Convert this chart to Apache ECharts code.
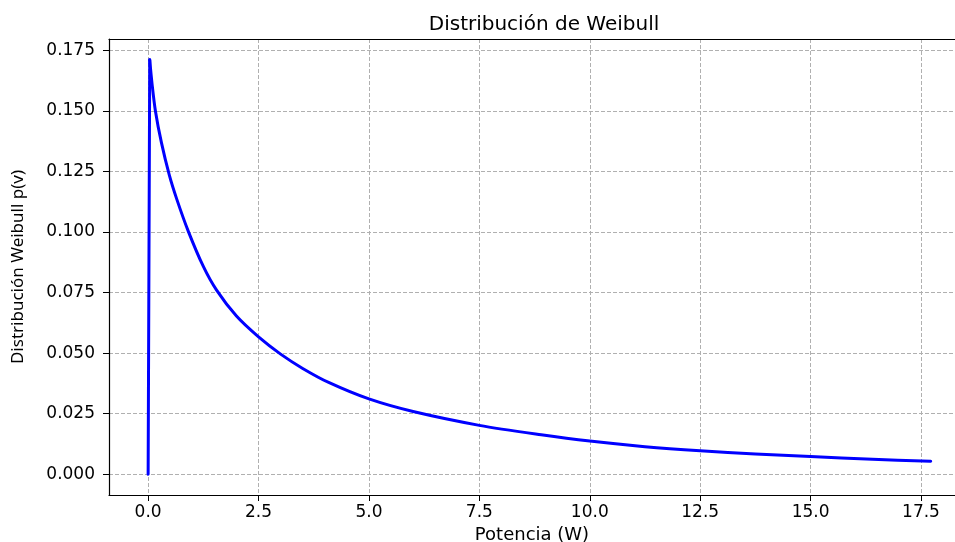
<!DOCTYPE html>
<html>
<head>
<meta charset="utf-8">
<script src="https://cdn.jsdelivr.net/npm/echarts@6/dist/echarts.min.js"></script>
<style>
  html, body { margin: 0; padding: 0; background: #fff; }
  #chart { width: 955px; height: 542px; }
</style>
</head>
<body>
<div id="chart"></div>
<script>
// valores
const potencia = [0, 0.036, 0.09, 0.165, 0.3, 0.48, 0.65, 0.91, 1.25, 1.55, 2.0, 2.5, 3.0, 3.5, 4.1, 5.0, 6.0, 7.5, 8.9, 10.0, 11.25, 12.5, 13.75, 15.0, 16.4, 17.72];
const weibull = [0, 0.1711, 0.161, 0.150, 0.137, 0.1235, 0.1135, 0.1003, 0.0858, 0.0760, 0.0653, 0.0567, 0.0496, 0.0437, 0.0378, 0.0311, 0.0259, 0.0202, 0.0163, 0.0137, 0.0114, 0.0097, 0.0084, 0.0073, 0.0062, 0.0054];
const xTicks = [0, 2.5, 5, 7.5, 10, 12.5, 15, 17.5];
const yTicks = [0, 0.025, 0.05, 0.075, 0.1, 0.125, 0.15, 0.175];

const font = 'DejaVu Sans';
const gridLine = { show: true, lineStyle: { color: '#b0b0b0', type: [4, 2], width: 1 } };
const puntos = potencia.map((p, i) => [p, weibull[i]]);
const azul = { color: '#0000ff', width: 3, cap: 'round', join: 'round' };

const chart = echarts.init(document.getElementById('chart'));
chart.setOption({
    animation: false,
    title: {
        text: 'Distribución de Weibull',
        left: 539,
        textAlign: 'center',
        top: 10,
        textStyle: { fontFamily: font, fontSize: 20, fontWeight: 'normal', color: '#000' }
    },
    grid: { left: 109, right: 0, top: 39, bottom: 47, containLabel: false, outerBoundsMode: 'none' },
    xAxis: [
        {
            type: 'value',
            min: -0.886,
            max: 18.27,
            name: 'Potencia (W)',
            nameLocation: 'middle',
            nameGap: 30,
            nameTextStyle: { fontFamily: font, fontSize: 18, color: '#000' },
            axisLine: { onZero: false, lineStyle: { color: '#000', width: 1.2 } },
            axisTick: { show: true, length: 6, customValues: xTicks, lineStyle: { color: '#000' } },
            axisLabel: {
                customValues: xTicks,
                margin: 9,
                fontFamily: font, fontSize: 17, color: '#000',
                formatter: v => v.toFixed(1)
            },
            splitLine: gridLine
        },
        {
            type: 'value',
            position: 'top',
            min: -0.886,
            max: 18.27,
            axisLine: { show: true, onZero: false, lineStyle: { color: '#000', width: 1.2 } },
            axisTick: { show: false },
            axisLabel: { show: false },
            splitLine: { show: false }
        }
    ],
    yAxis: {
        type: 'value',
        min: -0.00855,
        max: 0.1797,
        name: 'Distribución Weibull p(v)',
        nameLocation: 'middle',
        nameGap: 82,
        nameTextStyle: { fontFamily: 'Noto Sans', fontSize: 17, color: '#000' },
        axisLine: { show: true, onZero: false, lineStyle: { color: '#000', width: 1.2 } },
        axisTick: { show: true, length: 6, customValues: yTicks, lineStyle: { color: '#000' } },
        axisLabel: {
            customValues: yTicks,
            margin: 14,
            fontFamily: font, fontSize: 17, color: '#000',
            formatter: v => v.toFixed(3)
        },
        splitLine: gridLine
    },
    series: [
        {
            // subida vertical desde el origen hasta el pico
            type: 'line',
            data: puntos.slice(0, 2),
            showSymbol: false,
            lineStyle: azul
        },
        {
            type: 'line',
            data: puntos.slice(1),
            showSymbol: false,
            smooth: 0.3,
            lineStyle: azul
        }
    ]
});
</script>
</body>
</html>
